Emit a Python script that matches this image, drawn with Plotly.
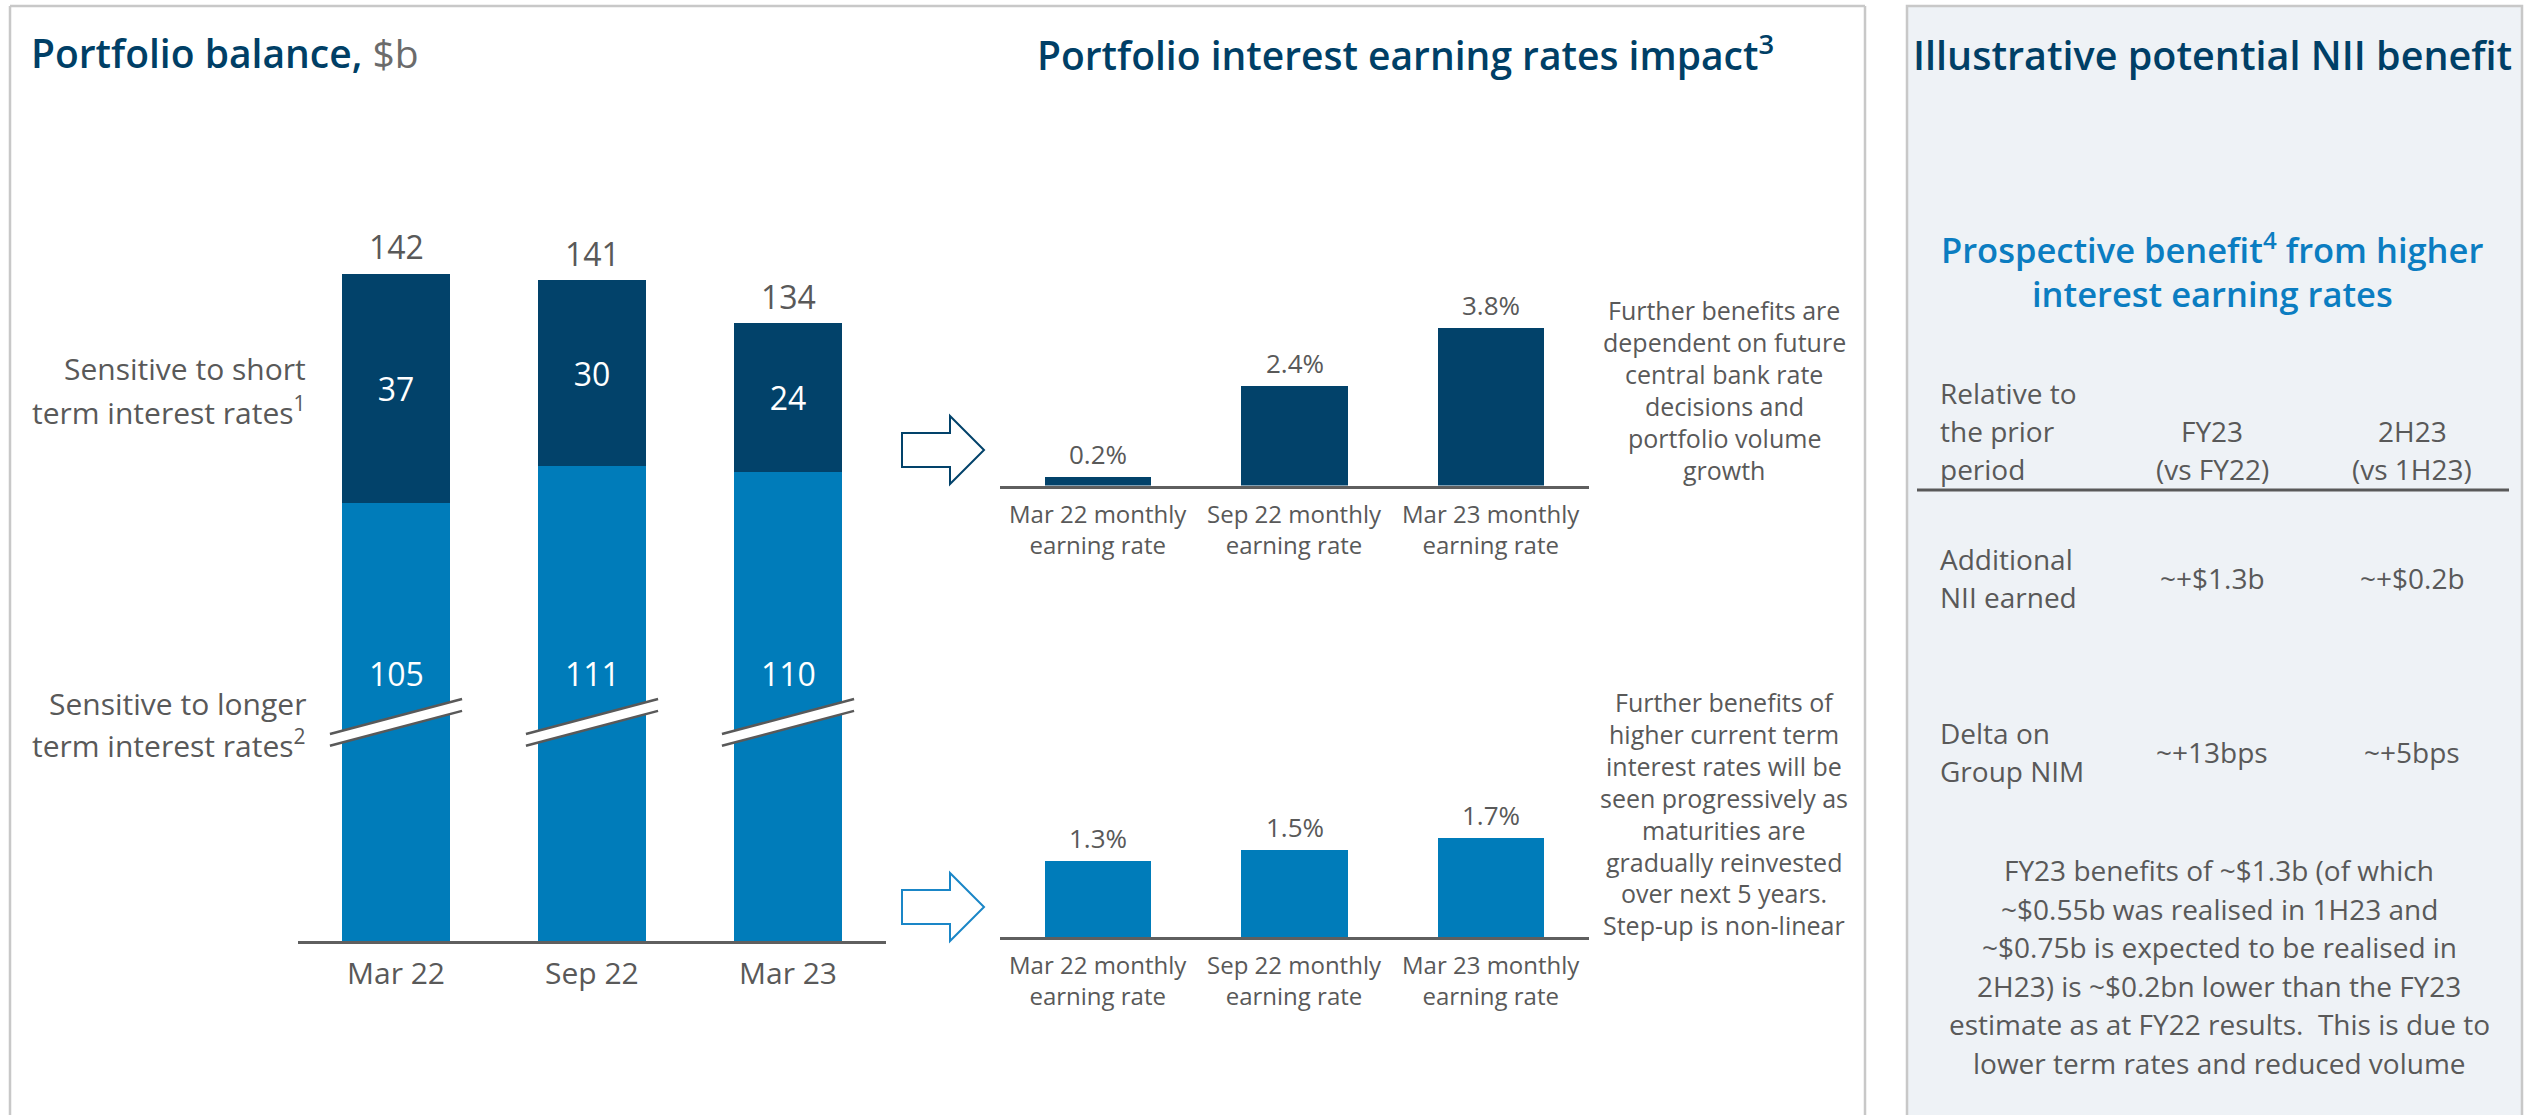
import plotly.graph_objects as go

# ---- data -------------------------------------------------------------
periods = ["Mar 22", "Sep 22", "Mar 23"]
short_term_bal = [37, 30, 24]          # sensitive to short term rates, $b
long_term_bal = [105, 111, 110]        # sensitive to longer term rates, $b

rate_cats = ["Mar 22 monthly", "Sep 22 monthly", "Mar 23 monthly"]
short_rate = [0.2, 2.4, 3.8]           # earning rate on short-term sensitive portfolio, %
term_rate = [1.3, 1.5, 1.7]            # earning rate on term sensitive portfolio, %

table_cols = ["FY23", "2H23"]
table_sub = ["(vs FY22)", "(vs 1H23)"]
table_rows = [["Additional", "NII earned"], ["Delta on", "Group NIM"]]
table_vals = [["~+$1.3b", "~+$0.2b"], ["~+13bps", "~+5bps"]]

note_short = ["Further benefits are", "dependent on future", "central bank rate",
              "decisions and", "portfolio volume", "growth"]
note_term = ["Further benefits of", "higher current term", "interest rates will be",
             "seen progressively as", "maturities are", "gradually reinvested",
             "over next 5 years.", "Step-up is non-linear"]
footnote = ["FY23 benefits of ~$1.3b (of which",
            "~$0.55b was realised in 1H23 and",
            "~$0.75b is expected to be realised in",
            "2H23) is ~$0.2bn lower than the FY23",
            "estimate as at FY22 results.  This is due to",
            "lower term rates and reduced volume"]

# ---- styling ----------------------------------------------------------
W, H = 2531, 1115
FONT = "Open Sans"
GRAY = "#595959"
TITLE = "#003F66"
DARK = "#02426A"
LIGHT = "#007CBA"
BLUE_TXT = "#0B7DC1"
BORDER = "#C8C8C8"
PANEL_BG = "#EEF2F6"

AXIS_CUT = 34.4      # portion of the long-term bars hidden by the axis break
BREAK_MID = 35.25    # level where the break marks are drawn


def px(x):
    return x / W


def py(y):
    return 1 - y / H


annotations = []
shapes = []


def label(x, y, text, size, color=GRAY, anchor="center", weight=400):
    annotations.append(dict(
        x=px(x), y=py(y), xref="paper", yref="paper", text=text,
        showarrow=False, xanchor=anchor, yanchor="middle",
        font=dict(family=FONT, size=size, color=color, weight=weight)))


def line(x0, y0, x1, y1, color, width):
    shapes.append(dict(type="line", xref="paper", yref="paper",
                       x0=px(x0), y0=py(y0), x1=px(x1), y1=py(y1),
                       line=dict(color=color, width=width)))


fig = go.Figure()

# ---- left: portfolio balance (stacked, broken axis) -------------------
xs = list(range(len(periods)))
long_visible = [v - AXIS_CUT for v in long_term_bal]
fig.add_trace(go.Bar(x=xs, y=long_visible, marker=dict(color=LIGHT, line=dict(width=0)),
                     width=0.556, xaxis="x", yaxis="y", hoverinfo="skip"))
fig.add_trace(go.Bar(x=xs, y=short_term_bal, marker=dict(color=DARK, line=dict(width=0)),
                     width=0.556, xaxis="x", yaxis="y",
                     text=[str(v) for v in short_term_bal], textposition="inside",
                     insidetextanchor="middle", textangle=0,
                     textfont=dict(family=FONT, size=32, color="white"),
                     hoverinfo="skip"))

for i, (s, l) in enumerate(zip(short_term_bal, long_term_bal)):
    total = s + l
    annotations.append(dict(x=i, y=total - AXIS_CUT, xref="x", yref="y", text=str(total),
                            showarrow=False, yanchor="middle", yshift=27,
                            font=dict(family=FONT, size=32, color=GRAY)))
    annotations.append(dict(x=i, y=43.1, xref="x", yref="y", text=str(l),
                            showarrow=False, yanchor="middle",
                            font=dict(family=FONT, size=32, color="white")))
    annotations.append(dict(x=i, y=py(972), xref="x", yref="paper", text=periods[i],
                            showarrow=False, yanchor="middle",
                            font=dict(family=FONT, size=30, color=GRAY)))
    # axis-break marks across each bar
    hw, rise, half = 0.337, 2.82, 0.95
    up0, up1 = BREAK_MID + half - rise, BREAK_MID + half + rise
    lo0, lo1 = BREAK_MID - half - rise, BREAK_MID - half + rise
    shapes.append(dict(type="path", xref="x", yref="y", layer="above",
                       path=f"M {i-hw} {lo0} L {i+hw} {lo1} L {i+hw} {up1} L {i-hw} {up0} Z",
                       fillcolor="white", line=dict(width=0)))
    for a, b in ((up0, up1), (lo0, lo1)):
        shapes.append(dict(type="line", xref="x", yref="y", layer="above",
                           x0=i - hw, y0=a, x1=i + hw, y1=b,
                           line=dict(color=GRAY, width=2.5)))

# ---- middle: earning rates --------------------------------------------
for vals, color, xa, ya, cat_y in ((short_rate, DARK, "x2", "y2", 529),
                                   (term_rate, LIGHT, "x3", "y3", 980)):
    fig.add_trace(go.Bar(x=xs, y=vals, marker=dict(color=color, line=dict(width=0)),
                         width=0.54, xaxis=xa, yaxis=ya, hoverinfo="skip"))
    for i, v in enumerate(vals):
        annotations.append(dict(x=i, y=v, xref=xa, yref=ya, text=f"{v}%",
                                showarrow=False, yanchor="middle", yshift=23,
                                font=dict(family=FONT, size=26, color=GRAY)))
        annotations.append(dict(x=i, y=py(cat_y), xref=xa, yref="paper",
                                text=f"{rate_cats[i]}<br>earning rate", showarrow=False,
                                yanchor="middle",
                                font=dict(family=FONT, size=24, color=GRAY)))

for k, t in enumerate(note_short):
    label(1724, 310 + 32 * k, t, 25)
for k, t in enumerate(note_term):
    label(1724, 702 + 31.9 * k, t, 25)

# hollow arrows pointing at the rate charts
for yc, col in ((450, DARK), (907, "#1A86C7")):
    pts = [(902, yc - 17), (950, yc - 17), (950, yc - 34), (984, yc),
           (950, yc + 34), (950, yc + 17), (902, yc + 17)]
    path = "M " + " L ".join(f"{px(a)} {py(b)}" for a, b in pts) + " Z"
    shapes.append(dict(type="path", xref="paper", yref="paper", path=path,
                       fillcolor="white", line=dict(color=col, width=2)))

# ---- panels -----------------------------------------------------------
shapes.append(dict(type="rect", xref="paper", yref="paper", layer="below",
                   x0=px(1907), x1=px(2522), y0=py(1125), y1=py(6),
                   fillcolor=PANEL_BG, line=dict(color=BORDER, width=2.5)))
line(10, 6, 1865, 6, BORDER, 2.5)
line(10, 6, 10, 1125, BORDER, 2.5)
line(1865, 6, 1865, 1125, BORDER, 2.5)

# titles
label(29, 53, "Portfolio balance, <span style='color:#6b6b6b;font-weight:400'>$b</span>",
      39, TITLE, anchor="left", weight=600)
label(1405, 53, "Portfolio interest earning rates impact<sup>3</sup>", 39, TITLE, weight=600)
label(2212, 55, "Illustrative potential NII benefit", 39.5, TITLE, weight=600)

# left-hand segment labels
label(308, 368, "Sensitive to short", 30, anchor="right")
label(308, 411, "term interest rates<sup>1</sup>", 30, anchor="right")
label(308, 703, "Sensitive to longer", 30, anchor="right")
label(308, 744, "term interest rates<sup>2</sup>", 30, anchor="right")

# ---- right: NII benefit table -----------------------------------------
label(2212, 248, "Prospective benefit<sup>4</sup> from higher", 34.5, BLUE_TXT, weight=600)
label(2212, 293, "interest earning rates", 34.5, BLUE_TXT, weight=600)

col_x = [2212, 2412]
for k, t in enumerate(["Relative to", "the prior", "period"]):
    label(1938, 393 + 37.8 * k, t, 28, anchor="left")
for cx, h, s in zip(col_x, table_cols, table_sub):
    label(cx, 430.8, h, 28)
    label(cx, 468.6, s, 28)
line(1917, 490, 2509, 490, GRAY, 3)

for r, ((l1, l2), vals) in enumerate(zip(table_rows, table_vals)):
    yc = 578 + 174 * r
    label(1938, yc - 19, l1, 28, anchor="left")
    label(1938, yc + 19, l2, 28, anchor="left")
    for cx, v in zip(col_x, vals):
        label(cx, yc, v, 28)

for k, t in enumerate(footnote):
    label(2219, 870 + 38.6 * k, t, 28)

# ---- axes -------------------------------------------------------------
def xaxis(x0, x1, anchor):
    return dict(domain=[px(x0), px(x1)], range=[-0.5, 2.5], anchor=anchor,
                showline=True, linecolor="#5f5f5f", linewidth=2.5,
                showticklabels=False, showgrid=False, zeroline=False,
                ticks="", fixedrange=True)


def yaxis(base, top, scale, anchor):
    return dict(domain=[py(base), py(top)], range=[0, (base - top) / scale],
                anchor=anchor, visible=False, showgrid=False, zeroline=False,
                fixedrange=True)


fig.update_layout(
    width=W, height=H, margin=dict(l=0, r=0, t=0, b=0),
    paper_bgcolor="white", plot_bgcolor="rgba(0,0,0,0)",
    barmode="stack", bargap=0, showlegend=False,
    font=dict(family=FONT, color=GRAY),
    xaxis=xaxis(298, 886, "y"), yaxis=yaxis(941, 200, 6.2, "x"),
    xaxis2=xaxis(1000, 1589, "y2"), yaxis2=yaxis(485.5, 240, 41.5, "x2"),
    xaxis3=xaxis(1000, 1589, "y3"), yaxis3=yaxis(937, 640, 58.2, "x3"),
    annotations=annotations, shapes=shapes,
)

fig.write_html("out.html")
